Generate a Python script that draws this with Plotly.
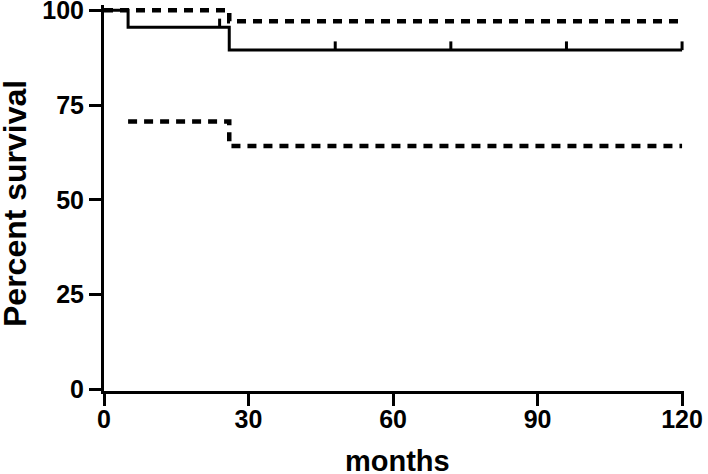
import plotly.graph_objects as go

# Kaplan-Meier estimate with 95% confidence band
km_months = [0, 5, 26, 120]
km_survival = [100, 95.5, 89.5, 89.5]

upper_months = [0, 26, 120]
upper_survival = [100, 97.1, 97.1]

lower_months = [5, 26, 120]
lower_survival = [70.7, 64.2, 64.2]

censor_months = [24, 48, 72, 96, 120]
censor_survival = [95.5, 89.5, 89.5, 89.5, 89.5]

x_ticks = [0, 30, 60, 90, 120]
y_ticks = [0, 25, 50, 75, 100]

FONT = "Liberation Sans, Arial, sans-serif"
TICK_UP = 2.3  # height of censor tick, in percent units

fig = go.Figure()

dash_style = dict(color="black", width=4.5, dash="9px,7px", shape="hv")

fig.add_trace(go.Scatter(x=upper_months, y=upper_survival, mode="lines",
                         line=dash_style, hoverinfo="skip"))
fig.add_trace(go.Scatter(x=lower_months, y=lower_survival, mode="lines",
                         line=dash_style, hoverinfo="skip"))

fig.add_trace(go.Scatter(x=km_months, y=km_survival, mode="lines",
                         line=dict(color="black", width=3, shape="hv")))

# censor marks: short vertical ticks rising from the curve
cx, cy = [], []
for t, s in zip(censor_months, censor_survival):
    cx += [t, t, None]
    cy += [s, s + TICK_UP, None]
fig.add_trace(go.Scatter(x=cx, y=cy, mode="lines",
                         line=dict(color="black", width=3), hoverinfo="skip"))

axis_common = dict(
    showgrid=False, zeroline=False, automargin=False,
    showline=True, linecolor="black", linewidth=3,
    ticks="outside", ticklen=12, tickwidth=3, tickcolor="black",
    ticklabeloverflow="allow",
    tickfont=dict(family=FONT, size=25, color="black", weight="bold"),
)

fig.update_xaxes(range=[0, 120.4], tickvals=x_ticks, ticklabelstandoff=-8, **axis_common)
fig.update_yaxes(range=[-0.4, 101.4], tickvals=y_ticks, **axis_common)

# axis titles as annotations so they can sit exactly where the original has them
fig.add_annotation(text="months", xref="paper", yref="paper", x=0.5, y=0,
                   xanchor="center", yanchor="middle", xshift=3, yshift=-70,
                   showarrow=False,
                   font=dict(family=FONT, size=29, color="black", weight="bold"))
fig.add_annotation(text="Percent survival", xref="paper", yref="paper", x=0, y=0.5,
                   xanchor="center", yanchor="middle", xshift=-89, yshift=-6,
                   textangle=-90, showarrow=False,
                   font=dict(family=FONT, size=32, color="black", weight="bold"))

fig.update_layout(
    width=708, height=474,
    margin=dict(l=104, r=24, t=5, b=83),
    paper_bgcolor="white", plot_bgcolor="white",
    showlegend=False,
)

# drop the default 8px page margin so the figure sits flush in the window
fig.write_html("out.html", config={"displayModeBar": False},
               post_script="document.body.style.margin='0px';")
